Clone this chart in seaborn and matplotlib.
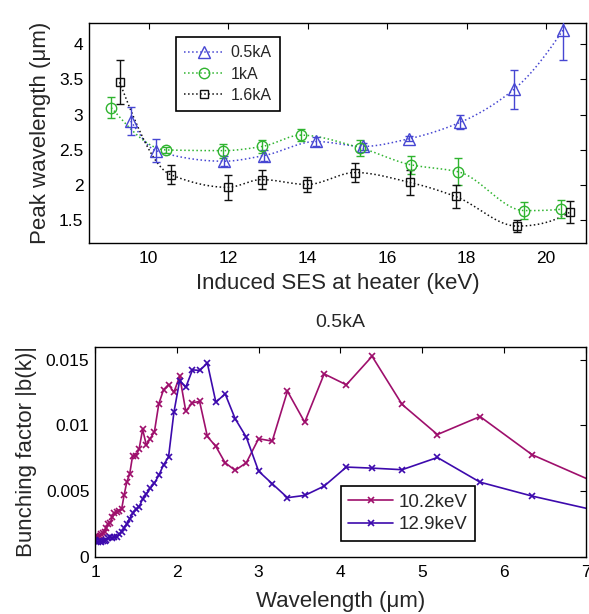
import numpy as np
import matplotlib
matplotlib.use("Agg")
import matplotlib.pyplot as plt
from matplotlib.lines import Line2D
from matplotlib.ticker import FuncFormatter
import seaborn as sns

# ---------------- data: top panel ----------------
x_05 = [9.55, 10.18, 11.89, 12.90, 14.21, 15.40, 16.56, 17.83, 19.19, 20.42]
y_05 = [2.91, 2.49, 2.34, 2.42, 2.62, 2.55, 2.66, 2.89, 3.36, 4.20]
e_05 = [0.20, 0.16, 0.07, 0.08, 0.07, 0.05, 0.04, 0.10, 0.28, 0.42]

x_1 = [9.06, 10.44, 11.88, 12.86, 13.83, 15.32, 16.59, 17.79, 19.45, 20.38]
y_1 = [3.10, 2.50, 2.49, 2.55, 2.71, 2.53, 2.29, 2.19, 1.64, 1.66]
e_1 = [0.15, 0.04, 0.10, 0.09, 0.09, 0.11, 0.13, 0.19, 0.12, 0.13]

x_16 = [9.27, 10.55, 11.99, 12.84, 13.99, 15.19, 16.57, 17.72, 19.27, 20.60]
y_16 = [3.46, 2.15, 1.97, 2.08, 2.01, 2.18, 2.04, 1.84, 1.42, 1.62]
e_16 = [0.31, 0.14, 0.18, 0.13, 0.10, 0.13, 0.18, 0.16, 0.09, 0.16]

top_labels = ["0.5kA", "1kA", "1.6kA"]
top_xticks = [10, 12, 14, 16, 18, 20]
top_yticks = [1.5, 2, 2.5, 3, 3.5, 4]

# ---------------- data: bottom panel ----------------
wavelength = [7.14, 6.345, 5.708, 5.187, 4.755, 4.388, 4.073, 3.802, 3.564, 3.353,
              3.167, 3.000, 2.850, 2.714, 2.591, 2.478, 2.374, 2.279, 2.192, 2.110,
              2.035, 1.965, 1.899, 1.838, 1.780, 1.726, 1.675, 1.628, 1.582, 1.539,
              1.499, 1.460, 1.424, 1.389, 1.356, 1.325, 1.294, 1.266, 1.238, 1.212,
              1.187, 1.162, 1.139, 1.117, 1.095, 1.074, 1.055, 1.035, 1.017, 1.000]
b_102 = [0.0056, 0.00777, 0.01068, 0.00931, 0.01160, 0.01527, 0.01310, 0.01393, 0.01025, 0.01261,
         0.00881, 0.00899, 0.00716, 0.00658, 0.00716, 0.00840, 0.00916, 0.01183, 0.01173, 0.01109,
         0.01375, 0.01253, 0.01312, 0.01272, 0.01165, 0.0095, 0.0090, 0.0085, 0.0097, 0.0082,
         0.0077, 0.0077, 0.0063, 0.0057, 0.0047, 0.0036, 0.0035, 0.0034, 0.0033, 0.0030,
         0.0026, 0.0025, 0.0022, 0.0019, 0.0018, 0.0017, 0.0016, 0.0015, 0.0016, 0.0015]
b_129 = [0.0035, 0.00462, 0.00568, 0.00756, 0.00663, 0.00675, 0.00683, 0.00538, 0.00467, 0.00450,
         0.00556, 0.00652, 0.00911, 0.01051, 0.01241, 0.01177, 0.01474, 0.01419, 0.01424, 0.01291,
         0.01342, 0.01101, 0.00759, 0.0070, 0.0062, 0.0056, 0.0052, 0.0048, 0.0044, 0.0038,
         0.0036, 0.0033, 0.0029, 0.0025, 0.0022, 0.0019, 0.0017, 0.0015, 0.0015, 0.0014,
         0.0015, 0.0014, 0.0013, 0.0012, 0.0012, 0.0011, 0.0012, 0.0011, 0.0012, 0.0013]
bottom_labels = ["10.2keV", "12.9keV"]
bottom_title = "0.5kA"


def pchip_curve(x, y, n=300):
    """Shape-preserving cubic Hermite curve through the data points."""
    x = np.asarray(x, float)
    y = np.asarray(y, float)
    h = np.diff(x)
    delta = np.diff(y) / h
    k = len(x)
    d = np.zeros(k)
    for i in range(1, k - 1):
        if delta[i - 1] * delta[i] > 0:
            w1 = 2 * h[i] + h[i - 1]
            w2 = h[i] + 2 * h[i - 1]
            d[i] = (w1 + w2) / (w1 / delta[i - 1] + w2 / delta[i])
    def end(h0, h1, d0, d1):
        s = ((2 * h0 + h1) * d0 - h0 * d1) / (h0 + h1)
        if np.sign(s) != np.sign(d0):
            s = 0.0
        elif np.sign(d0) != np.sign(d1) and abs(s) > abs(3 * d0):
            s = 3 * d0
        return s
    d[0] = end(h[0], h[1], delta[0], delta[1])
    d[-1] = end(h[-1], h[-2], delta[-1], delta[-2])
    xs = np.linspace(x[0], x[-1], n)
    idx = np.clip(np.searchsorted(x, xs) - 1, 0, k - 2)
    t = (xs - x[idx]) / h[idx]
    h00 = 2 * t ** 3 - 3 * t ** 2 + 1
    h10 = t ** 3 - 2 * t ** 2 + t
    h01 = -2 * t ** 3 + 3 * t ** 2
    h11 = t ** 3 - t ** 2
    ys = h00 * y[idx] + h10 * h[idx] * d[idx] + h01 * y[idx + 1] + h11 * h[idx] * d[idx + 1]
    return xs, ys


sns.set_theme(style="white")
plt.rcParams["font.family"] = ["Liberation Sans", "DejaVu Sans"]

fig = plt.figure(figsize=(5.89, 6.14), dpi=100)
ax1 = fig.add_axes([0.1511, 0.6042, 0.8438, 0.3583])
ax2 = fig.add_axes([0.1613, 0.0933, 0.8331, 0.3420])

c_blue = "#4646d2"
c_green = "#2fb42f"
c_black = "#111111"

series = [
    (x_05, y_05, e_05, c_blue, "^", 8.0),
    (x_1, y_1, e_1, c_green, "o", 7.5),
    (x_16, y_16, e_16, c_black, "s", 5.5),
]
handles = []
for (xx, yy, ee, col, mk, ms), lab in zip(series, top_labels):
    xs, ys = pchip_curve(xx, yy)
    sns.lineplot(x=xs, y=ys, ax=ax1, color=col, linestyle=":", linewidth=1.1,
                 sort=False, estimator=None, legend=False)
    ax1.errorbar(xx, yy, yerr=ee, fmt=mk, ms=ms, mfc="none", mec=col, mew=1.0,
                 ecolor=col, elinewidth=1.0, capsize=3.2, capthick=1.0, zorder=3)
    handles.append(Line2D([], [], color=col, linestyle=":", linewidth=1.1, marker=mk,
                          ms=ms, mfc="none", mec=col, mew=1.0, label=lab))

ax1.set_xlim(8.5, 21.0)
ax1.set_ylim(1.18, 4.3)
ax1.set_xticks(top_xticks)
ax1.set_yticks(top_yticks)
fmt = FuncFormatter(lambda v, p: f"{v:g}")
ax1.yaxis.set_major_formatter(fmt)
ax1.set_xlabel("Induced SES at heater (keV)", fontsize=16, labelpad=5)
ax1.set_ylabel("Peak wavelength (μm)", fontsize=16, labelpad=6)
leg1 = ax1.legend(handles=handles, loc="upper left", bbox_to_anchor=(0.1745, 0.935),
                  borderaxespad=0, fontsize=11.5, frameon=True, fancybox=False,
                  edgecolor="black", framealpha=1, handlelength=2.5, handletextpad=0.45,
                  labelspacing=0.4, borderpad=0.5)
leg1.get_frame().set_linewidth(1.2)

c_mag = "#9e0f6c"
c_pur = "#3d0aad"
sns.lineplot(x=wavelength, y=b_102, ax=ax2, color=c_mag, linewidth=1.2, sort=False,
             estimator=None, marker="x", markersize=5, markeredgecolor=c_mag,
             markeredgewidth=1.2, legend=False)
sns.lineplot(x=wavelength, y=b_129, ax=ax2, color=c_pur, linewidth=1.2, sort=False,
             estimator=None, marker="x", markersize=5, markeredgecolor=c_pur,
             markeredgewidth=1.2, legend=False)
h2 = [Line2D([], [], color=c, linewidth=1.2, marker="x", ms=5, mec=c, mew=1.2, label=l)
      for c, l in zip([c_mag, c_pur], bottom_labels)]
ax2.set_xlim(1, 7)
ax2.set_ylim(0, 0.016)
ax2.set_xticks([1, 2, 3, 4, 5, 6, 7])
ax2.set_yticks([0, 0.005, 0.01, 0.015])
ax2.yaxis.set_major_formatter(fmt)
ax2.set_xlabel("Wavelength (μm)", fontsize=16, labelpad=8)
ax2.set_ylabel("Bunching factor |b(k)|", fontsize=16, labelpad=6)
ax2.set_title(bottom_title, fontsize=14, pad=14)
leg2 = ax2.legend(handles=h2, loc="lower left", bbox_to_anchor=(0.501, 0.076),
                  borderaxespad=0, fontsize=13.5, frameon=True, fancybox=False,
                  edgecolor="black", framealpha=1, handlelength=2.4, handletextpad=0.3,
                  labelspacing=0.3, borderpad=0.4)
leg2.get_frame().set_linewidth(1.2)

for ax in (ax1, ax2):
    ax.tick_params(direction="in", top=True, right=True, length=4, width=0.8,
                   labelsize=12.5, colors="black")
    ax.tick_params(axis="x", pad=6)
    ax.tick_params(axis="y", pad=4)
    for s in ax.spines.values():
        s.set_color("black")
        s.set_linewidth(1.0)
    ax.grid(False)
    ax.set_facecolor("white")

fig.savefig("out.png", dpi=100, facecolor="white")
